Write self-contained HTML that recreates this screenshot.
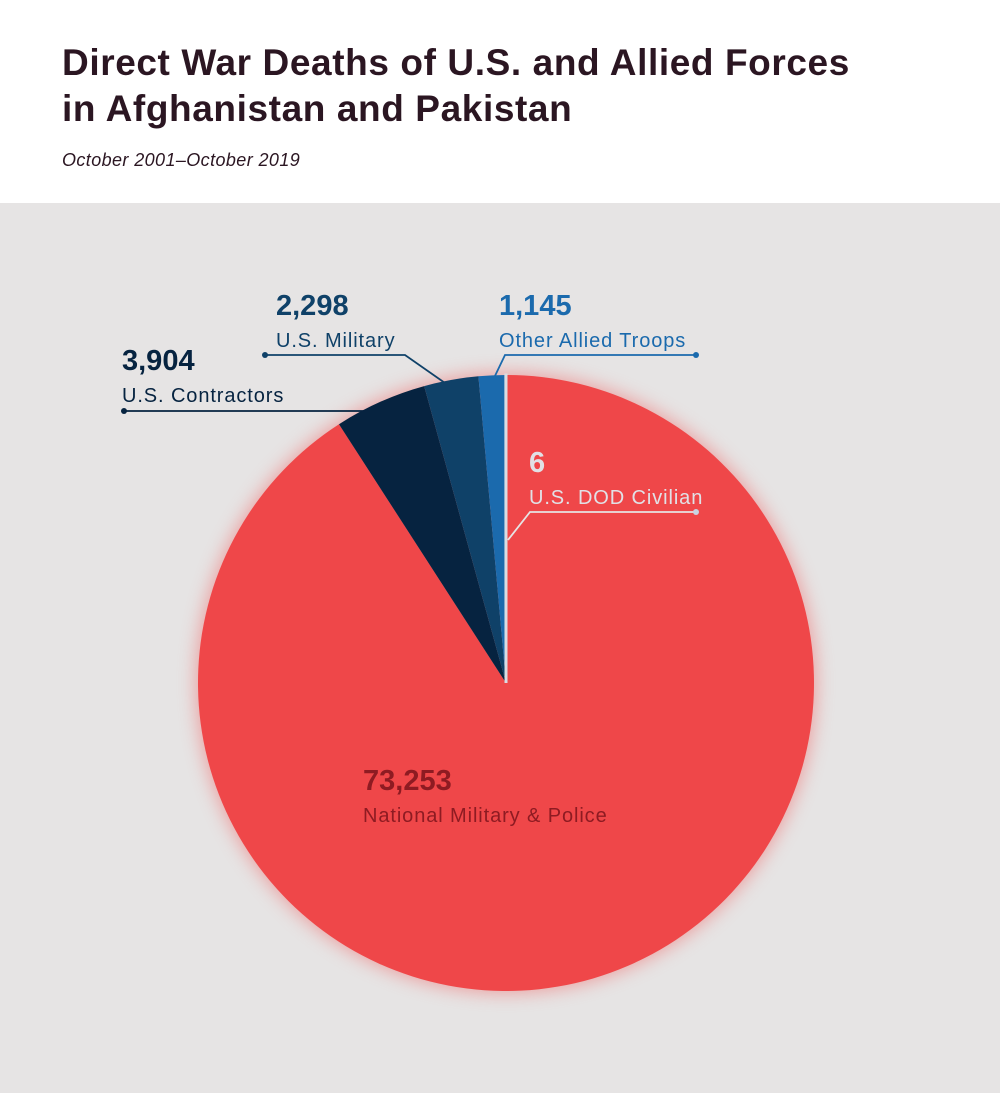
<!DOCTYPE html>
<html><head><meta charset="utf-8"><style>
body{margin:0;width:1000px;height:1093px;background:#fff;font-family:"Liberation Sans",sans-serif;overflow:hidden}
.t{position:absolute;left:62px;color:#2b1622;font-size:37px;line-height:46px;font-weight:bold;letter-spacing:0.6px}
</style></head><body>
<div class="t" style="top:40px">Direct War Deaths of U.S. and Allied Forces<br>in Afghanistan and Pakistan</div>
<div style="position:absolute;left:62px;top:150px;font-size:18px;font-style:italic;color:#2b1622;letter-spacing:0.4px">October 2001–October 2019</div>
<svg id="c" style="position:absolute;left:0;top:203px" width="1000" height="890" viewBox="0 203 1000 890">
<defs><filter id="g" x="-20%" y="-20%" width="140%" height="140%"><feGaussianBlur stdDeviation="9"/></filter></defs>
<rect x="0" y="203" width="1000" height="890" fill="#e6e4e4"/>
<circle cx="506" cy="683" r="310" fill="#f07070" opacity="0.6" filter="url(#g)"/>
<g id="sl"></g><g id="lb"></g>
</svg>
<script>
const categories=["National Military & Police","U.S. Contractors","U.S. Military","Other Allied Troops","U.S. DOD Civilian"];
const values=[73253,3904,2298,1145,6];
const labels=["73,253","3,904","2,298","1,145","6"];
const colors=["#ef4749","#062340","#0f4168","#1b6aad","#d9dde4"];
const cx=506,cy=683,r=308,NS="http://www.w3.org/2000/svg";
const total=values.reduce((a,b)=>a+b,0);
function pt(a,rr){return [cx+rr*Math.sin(a),cy-rr*Math.cos(a)];}
let a0=0;const sl=document.getElementById('sl');
values.forEach((v,i)=>{
 const a1=a0+v/total*2*Math.PI;
 const p=document.createElementNS(NS,'path');
 const [x0,y0]=pt(a0,r),[x1,y1]=pt(a1,r);
 p.setAttribute('d',`M${cx},${cy}L${x0},${y0}A${r},${r} 0 ${a1-a0>Math.PI?1:0} 1 ${x1},${y1}Z`);
 p.setAttribute('fill',colors[i]);
 if(v/total<0.002){p.setAttribute('stroke',colors[i]);p.setAttribute('stroke-width','3');}
 
 
 sl.appendChild(p);a0=a1;
});
const lb=document.getElementById('lb');
const L=[
 {n:labels[0],c:categories[0],x:363,y:790,col:"#8e1b22",ln:null},
 {n:labels[1],c:categories[1],x:122,y:370,col:"#062340",ln:"M124,411L365,411",dot:[124,411]},
 {n:labels[2],c:categories[2],x:276,y:315,col:"#0f4168",ln:"M265,355L405,355L445,383",dot:[265,355]},
 {n:labels[3],c:categories[3],x:499,y:315,col:"#1b6aad",ln:"M696,355L505,355L494,378",dot:[696,355]},
 {n:labels[4],c:categories[4],x:529,y:472,col:"#e1e1e6",ln:"M696,512L530,512L508,540",dot:[696,512]}
];
L.forEach((d,i)=>{
 const t=document.createElementNS(NS,'text');t.setAttribute('x',d.x);t.setAttribute('y',d.y);
 t.setAttribute('fill',d.col);t.setAttribute('font-size','29');t.setAttribute('font-weight','bold');t.textContent=d.n;
 lb.appendChild(t);
 const t2=document.createElementNS(NS,'text');t2.setAttribute('x',d.x);t2.setAttribute('y',d.y+32);
 t2.setAttribute('fill',d.col);t2.setAttribute('font-size','20');t2.setAttribute('letter-spacing','0.9');t2.textContent=d.c;
 lb.appendChild(t2);
 if(d.ln){const p=document.createElementNS(NS,'path');p.setAttribute('d',d.ln);p.setAttribute('fill','none');
  p.setAttribute('stroke',i==4?'#e6e4e4':d.col);p.setAttribute('stroke-width','1.8');
  lb.appendChild(p);
  const c=document.createElementNS(NS,'circle');c.setAttribute('cx',d.dot[0]);c.setAttribute('cy',d.dot[1]);c.setAttribute('r','3');
  c.setAttribute('fill',i==4?'#c8d4e2':d.col);lb.appendChild(c);}
});
</script>
</body></html>
